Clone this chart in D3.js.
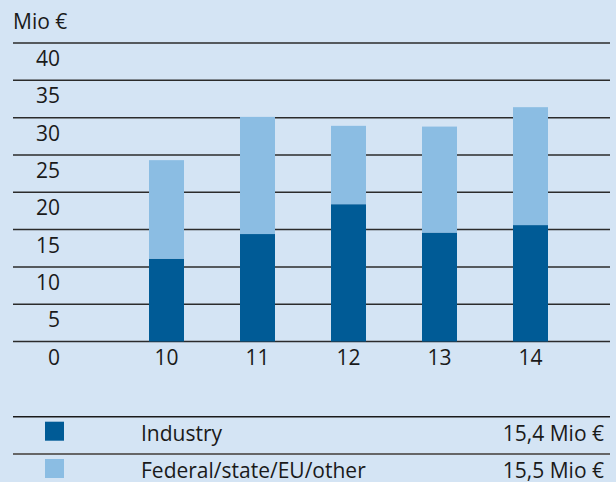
<!DOCTYPE html>
<html>
<head>
<meta charset="utf-8">
<script src="https://cdn.jsdelivr.net/npm/d3@7"></script>
<style>
  body { margin: 0; background: #d4e4f4; }
  svg { display: block; font-family: "Open Sans", sans-serif; }
  text { fill: #1a1a1a; }
</style>
</head>
<body>
<svg id="chart" width="616" height="482"></svg>
<script>
// data
const years = ["10", "11", "12", "13", "14"]
const industry = [11.1, 14.4, 18.4, 14.6, 15.6]
const federal = [13.2, 15.7, 10.5, 14.2, 15.8]
const yTicks = [0, 5, 10, 15, 20, 25, 30, 35, 40]
const legendNames = ["Industry", "Federal/state/EU/other"]
const legendValues = ["15,4 Mio €", "15,5 Mio €"]
const colours = ["#005b96", "#8bbde3"]

const svg = d3.select("#chart")
const left = 13, right = 610

const y = d3.scaleLinear().domain([0, 40]).range([341.5, 43])
const x = d3.scalePoint().domain(years).range([166.5, 530.5])
const barW = 35

svg.append("text")
    .attr("x", 13)
    .attr("y", 29)
    .style("font-size", "21px")
    .text("Mio €")

// gridlines
svg.append("g")
    .selectAll("line")
    .data(yTicks)
    .join("line")
    .attr("x1", left)
    .attr("x2", right)
    .attr("y1", d => y(d))
    .attr("y2", d => y(d))
    .attr("stroke", "#2b2b2b")
    .attr("stroke-width", 1.5)

// tick labels sit under their line
svg.append("g")
    .selectAll("text")
    .data(yTicks)
    .join("text")
    .attr("x", 60)
    .attr("y", d => y(d) + 23)
    .attr("text-anchor", "end")
    .style("font-size", "21px")
    .text(d => d)

const stacked = years.map((yr, i) => ({ yr, ind: industry[i], fed: federal[i] }))

const bars = svg.append("g")

bars.selectAll(".ind")
    .data(stacked)
    .join("rect")
    .attr("class", "ind")
    .attr("x", d => x(d.yr) - barW / 2)
    .attr("width", barW)
    .attr("y", d => y(d.ind))
    .attr("height", d => y(0) - y(d.ind))
    .attr("fill", colours[0])

bars.selectAll(".fed")
    .data(stacked)
    .join("rect")
    .attr("class", "fed")
    .attr("x", d => x(d.yr) - barW / 2)
    .attr("width", barW)
    .attr("y", d => y(d.ind + d.fed))
    .attr("height", d => y(d.ind) - y(d.ind + d.fed))
    .attr("fill", colours[1])

svg.append("g")
    .selectAll("text")
    .data(years)
    .join("text")
    .attr("x", d => x(d))
    .attr("y", y(0) + 23)
    .attr("text-anchor", "middle")
    .style("font-size", "21px")
    .text(d => d)

// legend
const rowY = [416.7, 454]
const legend = svg.append("g")
legendNames.forEach((name, i) => {
    legend.append("line")
        .attr("x1", left).attr("x2", right)
        .attr("y1", rowY[i]).attr("y2", rowY[i])
        .attr("stroke", i == 0 ? "#1a1a1a" : "#666")
        .attr("stroke-width", i == 0 ? 1.5 : 2)
    legend.append("rect")
        .attr("x", 45).attr("y", rowY[i] + 5)
        .attr("width", 19).attr("height", 19)
        .attr("fill", colours[i])
    legend.append("text")
        .attr("x", 141).attr("y", rowY[i] + 24)
        .style("font-size", "21px")
        .text(name)
    legend.append("text")
        .attr("x", 604).attr("y", rowY[i] + 24)
        .attr("text-anchor", "end")
        .style("font-size", "21px")
        .text(legendValues[i])
})
</script>
</body>
</html>
